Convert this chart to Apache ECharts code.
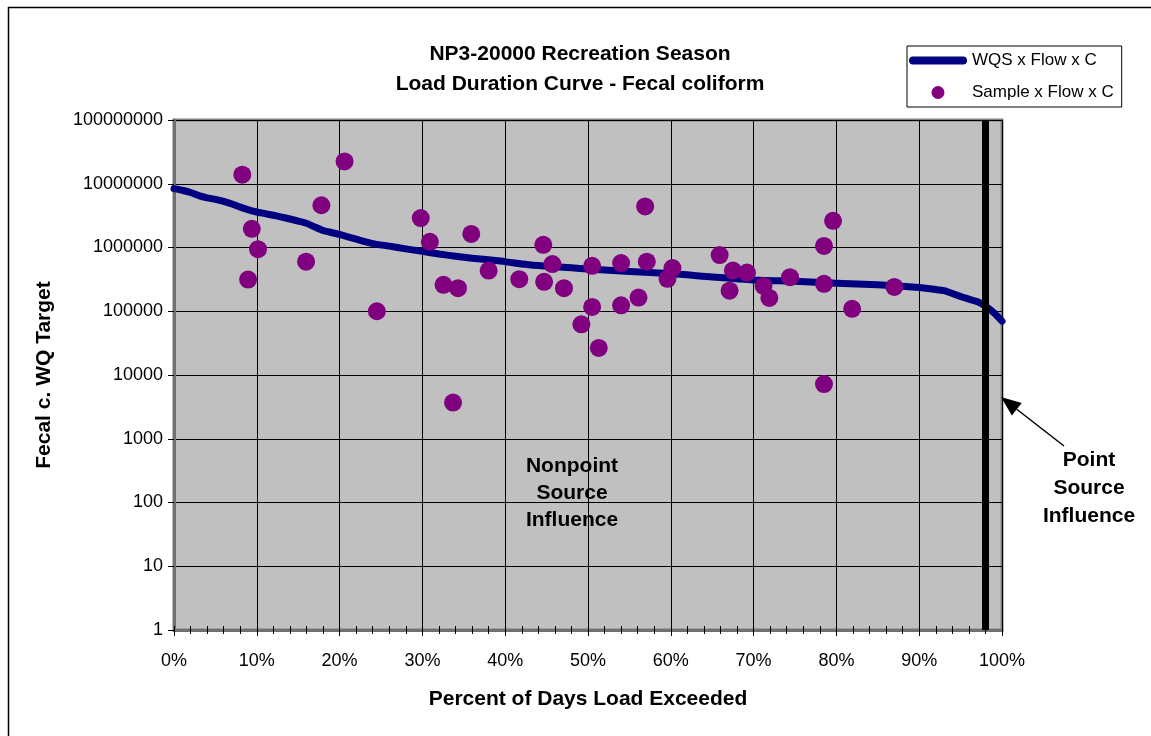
<!DOCTYPE html>
<html>
<head>
<meta charset="utf-8">
<script src="https://cdn.jsdelivr.net/npm/echarts@6/dist/echarts.min.js"></script>
<style>
html,body{margin:0;padding:0;background:#fff;}
#main{width:1151px;height:736px;}
</style>
</head>
<body>
<div id="main"></div>
<script>
// ---- data ----
const curveX = [0,1,2,3,4,5,6,7,8,9,10,11,12,13,14,15,16,17,18,19,20,22,24,26,28,30,32,34,36,38,40,42,44,46,48,50,55,60,65,70,75,80,85,90,92,93,94,95,96,97,98,99,100];
const curveY = [8.4e6,7.9e6,7.3e6,6.5e6,6.0e6,5.7e6,5.3e6,4.8e6,4.3e6,3.9e6,3.6e6,3.4e6,3.2e6,3.0e6,2.8e6,2.6e6,2.4e6,2.1e6,1.85e6,1.72e6,1.6e6,1.35e6,1.15e6,1.05e6,9.5e5,8.7e5,7.9e5,7.3e5,6.8e5,6.4e5,6.0e5,5.5e5,5.2e5,5.0e5,4.8e5,4.6e5,4.2e5,3.9e5,3.45e5,3.1e5,2.95e5,2.76e5,2.6e5,2.36e5,2.2e5,2.1e5,1.9e5,1.7e5,1.55e5,1.42e5,1.2e5,9.5e4,7e4];
const sampleX = [8.25,20.6,17.8,9.4,10.15,8.95,15.95,24.5,29.8,30.9,32.55,34.3,33.7,35.9,38.0,41.7,44.6,45.7,44.7,47.1,50.5,50.5,49.2,51.3,54.0,54.0,56.9,57.1,56.1,60.2,59.6,65.9,67.5,67.1,69.2,71.2,71.9,74.4,78.5,78.5,79.6,78.5,81.9,87.0];
const sampleY = [1.39e7,2.24e7,4.6e6,1.96e6,9.4e5,3.14e5,6.0e5,1.0e5,2.9e6,1.23e6,2.6e5,2.3e5,3.7e3,1.63e6,4.35e5,3.18e5,1.1e6,5.5e5,2.89e5,2.3e5,5.15e5,1.17e5,6.25e4,2.66e4,5.7e5,1.24e5,4.4e6,6.0e5,1.64e5,4.75e5,3.22e5,7.6e5,4.35e5,2.1e5,4.05e5,2.5e5,1.62e5,3.43e5,2.69e5,1.06e6,2.62e6,7.2e3,1.09e5,2.41e5];
const pointSourceLimit = [98];
const xTicks = [0,10,20,30,40,50,60,70,80,90,100];
const yTicks = [1,10,100,1000,10000,100000,1000000,10000000,100000000];
const seriesNames = ['WQS x Flow x C','Sample x Flow x C'];
const titleLines = ['NP3-20000 Recreation Season','Load Duration Curve - Fecal coliform'];

const FONT = "'Liberation Sans', Arial, Helvetica, sans-serif";
const chart = echarts.init(document.getElementById('main'));

const curveData = curveX.map((x,i)=>[x,curveY[i]]);
const sampleData = sampleX.map((x,i)=>[x,sampleY[i]]);

// arrow annotation geometry (annotation only)
const tail = [1064,446], tip = [1001,397];
const dx = tip[0]-tail[0], dy = tip[1]-tail[1];
const L = Math.sqrt(dx*dx+dy*dy), ux = dx/L, uy = dy/L;
const hl = 20, hw = 8;
const base = [tip[0]-hl*ux, tip[1]-hl*uy];
const nx = -uy, ny = ux;

const option = {
  backgroundColor:'#ffffff',
  animation:false,
  title:{
    text: titleLines.join('\n'),
    left: 580,
    top:39,
    padding:0,
    textAlign:'center',
    textStyle:{fontFamily:FONT,fontSize:21,fontWeight:'bold',color:'#000',lineHeight:30,align:'center'}
  },
  legend:{
    orient:'vertical',
    left:907, top:46,
    padding:[6,8,6,2],
    itemGap:15,
    itemWidth:58, itemHeight:13,
    backgroundColor:'#fff',
    borderColor:'#000', borderWidth:1, borderRadius:0,
    textStyle:{fontFamily:FONT,fontSize:17,color:'#000'},
    data:[
      {name:seriesNames[0], icon:'path://M4,0 L54,0 A4,4 0 0 1 54,8 L4,8 A4,4 0 0 1 4,0 Z'},
      {name:seriesNames[1], icon:'circle'}
    ]
  },
  grid:{
    left:174, right:149, top:120, bottom:106,
    show:true, backgroundColor:'#C0C0C0', borderColor:'#808080', borderWidth:3,
    outerBoundsMode:'none'
  },
  xAxis:[{
    type:'value', min:0, max:100, interval:10,
    name:'Percent of Days Load Exceeded', nameLocation:'middle', nameGap:59,
    nameTextStyle:{fontFamily:FONT,fontSize:21,fontWeight:'bold',color:'#000'},
    axisLine:{show:true,onZero:false,lineStyle:{color:'#707070',width:3}},
    axisTick:{show:true,length:6,lineStyle:{color:'#000',width:1}},
    minorTick:{show:true,splitNumber:5,length:4,lineStyle:{color:'#000',width:1}},
    axisLabel:{margin:22,fontFamily:FONT,fontSize:18,color:'#000',formatter:'{value}%'},
    splitLine:{show:true,lineStyle:{color:'#000',width:1}}
  },{
    type:'value', min:0, max:100, interval:10, position:'bottom',
    axisLine:{show:false},
    axisTick:{show:true,inside:true,length:4,lineStyle:{color:'#000',width:1}},
    minorTick:{show:true,splitNumber:5,length:4,lineStyle:{color:'#000',width:1}},
    axisLabel:{show:false},
    splitLine:{show:false}
  }],
  yAxis:{
    type:'log', logBase:10, min:1, max:1e8, splitNumber:8,
    name:'Fecal c. WQ Target', nameLocation:'middle', nameGap:119,
    nameTextStyle:{fontFamily:FONT,fontSize:21,fontWeight:'bold',color:'#000'},
    axisLine:{show:true,lineStyle:{color:'#707070',width:3}},
    axisTick:{show:true,length:6,lineStyle:{color:'#000',width:1}},
    axisLabel:{margin:11,fontFamily:FONT,fontSize:18,color:'#000',
      formatter:function(v){return String(Math.round(v));}},
    splitLine:{show:true,lineStyle:{color:'#000',width:1}}
  },
  series:[{
    name:seriesNames[0], type:'line', data:curveData,
    showSymbol:false, symbol:'none', smooth:0.2, z:2,
    lineStyle:{color:'#000080',width:7,cap:'round',join:'round'},
    itemStyle:{color:'#000080'},
    markLine:{
      silent:true, symbol:'none', z:10,
      label:{show:false},
      lineStyle:{color:'#000',width:7,type:'solid'},
      data:pointSourceLimit.map(v=>({xAxis:v}))
    }
  },{
    name:seriesNames[1], type:'scatter', data:sampleData,
    symbol:'circle', symbolSize:18, z:3,
    itemStyle:{color:'#800080',opacity:1}
  }],
  graphic:[
    {type:'rect', silent:true, z:-10, shape:{x:8.5,y:7.5,width:1160,height:760},
     style:{fill:null,stroke:'#000',lineWidth:1.5}},
    {type:'text', silent:true, z:20, x:572, y:453,
     style:{text:'Nonpoint\nSource\nInfluence', font:'bold 21px '+FONT, fill:'#000',
            textAlign:'center', textVerticalAlign:'top', lineHeight:27}},
    {type:'text', silent:true, z:20, x:1089, y:446,
     style:{text:'Point\nSource\nInfluence', font:'bold 21px '+FONT, fill:'#000',
            textAlign:'center', textVerticalAlign:'top', lineHeight:28}},
    {type:'line', silent:true, z:20,
     shape:{x1:tail[0],y1:tail[1],x2:base[0],y2:base[1]},
     style:{stroke:'#000',lineWidth:1.5}},
    {type:'polygon', silent:true, z:20,
     shape:{points:[tip,[base[0]+hw*nx,base[1]+hw*ny],[base[0]-hw*nx,base[1]-hw*ny]]},
     style:{fill:'#000'}}
  ]
};
chart.setOption(option);
</script>
</body>
</html>
